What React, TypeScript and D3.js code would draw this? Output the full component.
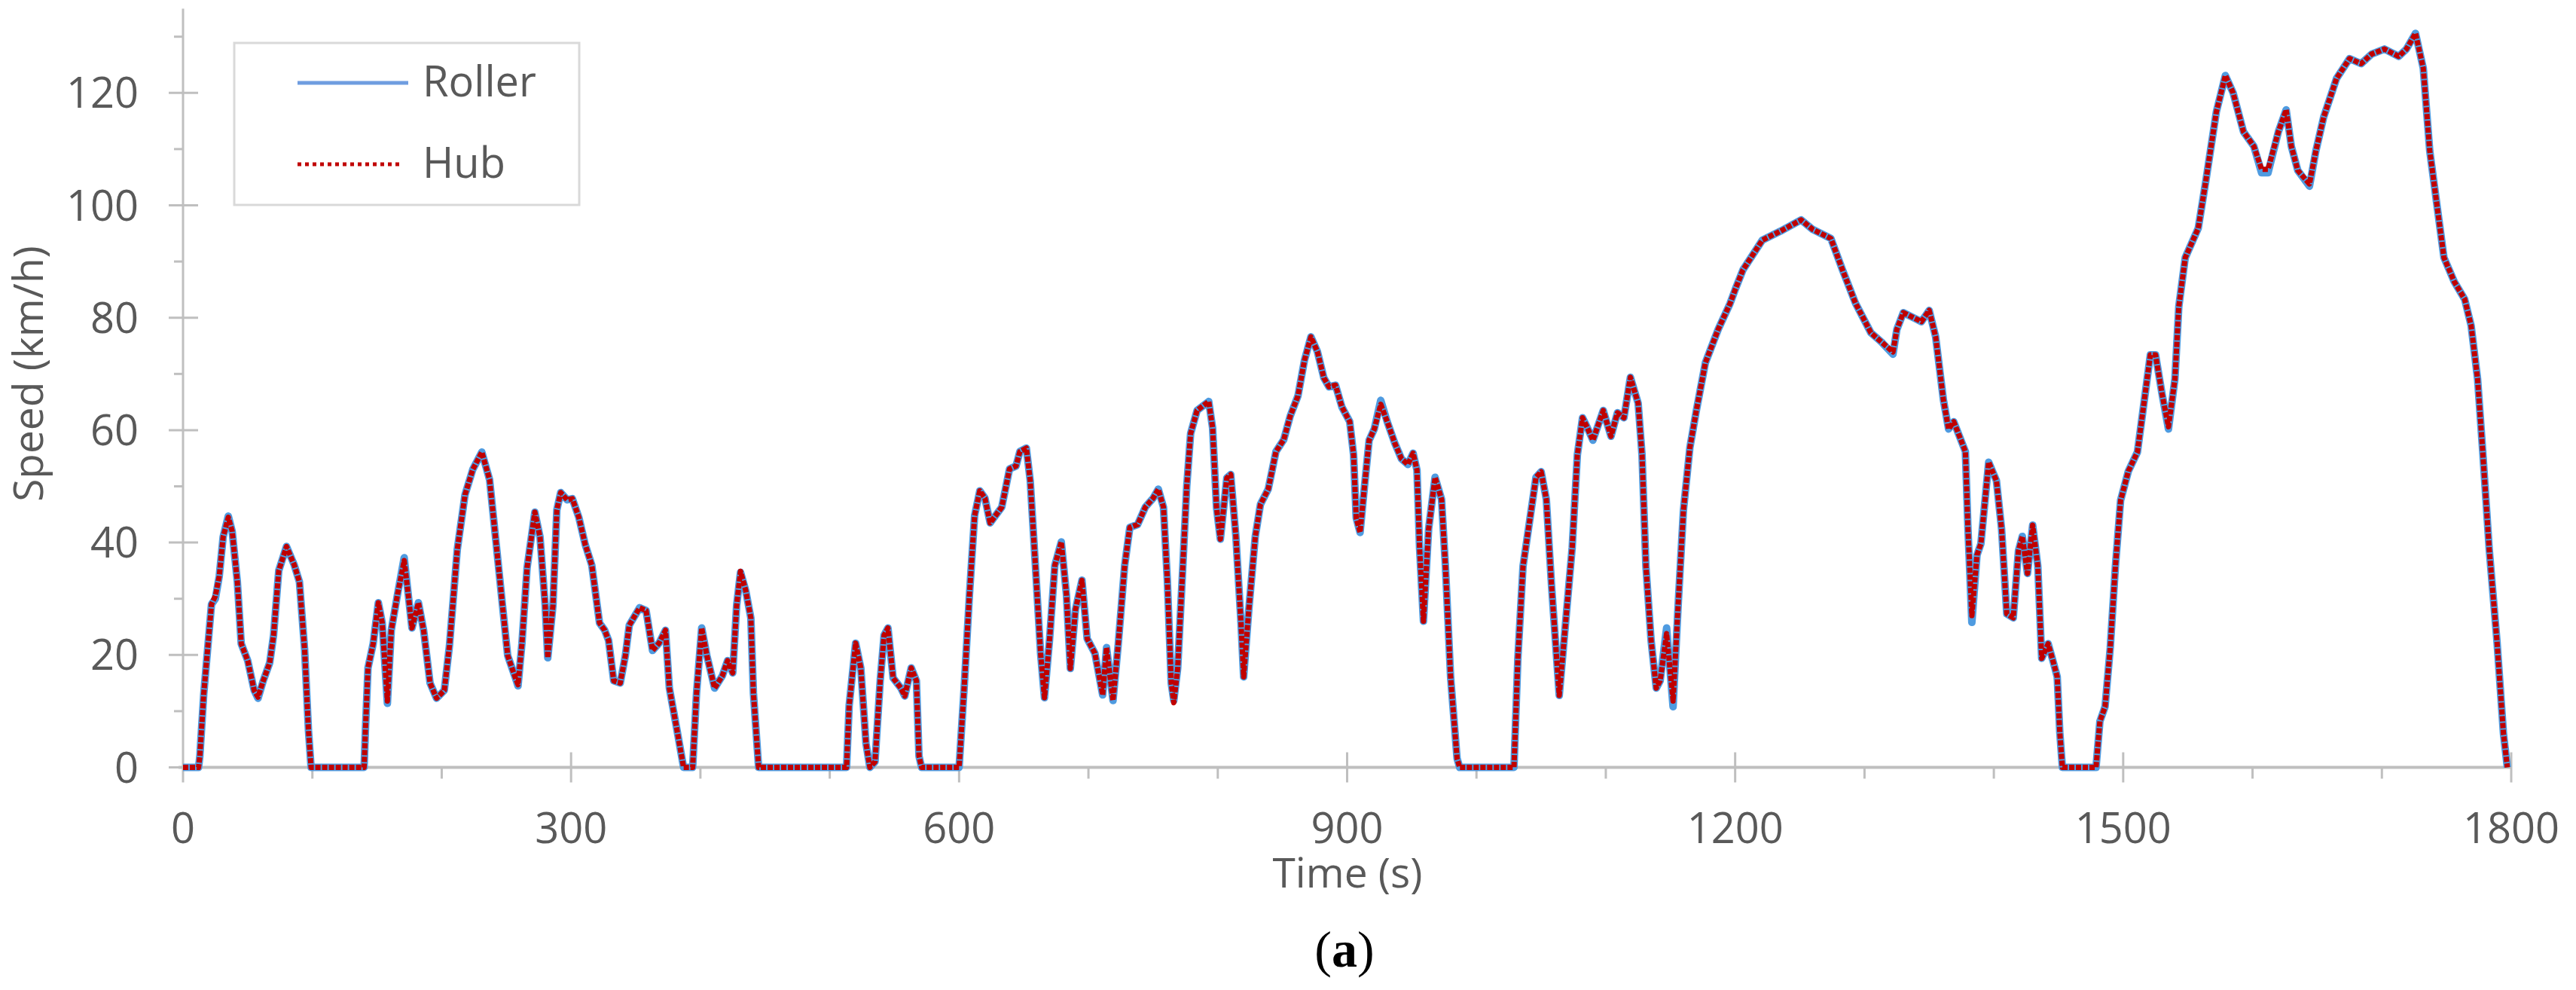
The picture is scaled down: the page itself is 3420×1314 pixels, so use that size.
import React, { useEffect } from "react";
import * as d3 from "d3";

// Time (s) of each read point
const timeS = [
  0, 12, 13, 16, 19, 22, 25, 28, 31, 35, 38, 42, 45, 50, 55, 58, 62, 67, 70, 74, 80, 86, 90, 94, 97, 99,
  140, 141, 143, 147, 151, 154, 158, 161, 166, 171, 174, 177, 182, 186, 191, 196, 202, 206, 212, 218, 224, 231, 237, 242, 247, 251, 257, 259,
  262, 266, 272, 276, 280, 282, 286, 289, 292, 297, 301, 306, 311, 316, 322, 326, 329, 333, 338, 342, 345, 353, 358, 363, 368, 373, 376, 382, 387,
  394, 397, 401, 405, 411, 417, 421, 425, 428, 431, 435, 439, 441, 445,
  513, 515, 520, 524, 528, 531, 535, 539, 542, 545, 549, 555, 558, 563, 567, 569, 571,
  600, 604, 608, 612, 616, 620, 624, 633, 639, 644, 647, 652, 655, 659, 663, 666, 670, 674, 679, 683, 686, 690, 695, 699, 705, 711, 714, 719, 723,
  728, 732, 738, 744, 750, 754, 758, 761, 764, 766, 769, 773, 776, 779, 784, 793, 796, 799, 802, 807, 810, 814, 818, 820, 824, 829, 833, 839, 845,
  851, 856, 862, 867, 872, 877, 882, 886, 891, 896, 902, 905, 907, 910, 913, 917, 921, 926, 931, 937, 942, 947, 951, 954, 956, 959, 963, 968, 973,
  976, 980, 985, 987,
  1029, 1032, 1036, 1041, 1046, 1050, 1054, 1058, 1064, 1069, 1074, 1078, 1082, 1085, 1090, 1098, 1104, 1109, 1114, 1119, 1125, 1128, 1131, 1135,
  1139, 1142, 1147, 1152, 1156, 1160, 1165, 1170, 1177, 1187, 1196, 1200, 1206, 1221, 1235, 1251, 1260, 1274, 1283, 1293, 1305, 1313, 1322, 1325,
  1330, 1344, 1350, 1355, 1361, 1365, 1369, 1378, 1380, 1383, 1387, 1390, 1396, 1402, 1406, 1410, 1415, 1419, 1422, 1426, 1430, 1434, 1437, 1442,
  1446, 1449, 1451, 1453,
  1479, 1482, 1486, 1490, 1494, 1498, 1504, 1511, 1515, 1521, 1525, 1530, 1535, 1540, 1543, 1548, 1558, 1564, 1572, 1579, 1585, 1593, 1601, 1607,
  1612, 1620, 1626, 1630, 1635, 1644, 1649, 1655, 1665, 1675, 1684, 1692, 1702, 1713, 1719, 1726, 1732, 1737, 1743, 1748, 1756, 1764, 1769, 1774,
  1778, 1783, 1789, 1794, 1797,
];

// Roller speed (km/h)
const rollerKmh = [
  0, 0, 2, 13, 21, 29, 30, 34, 41, 44.7, 42, 33, 22, 19, 13.7, 12.3, 15.4, 18.6, 23.5, 35, 39.3, 36, 33, 21, 6.5, 0,
  0, 6.5, 17.7, 22, 29.3, 25.7, 11.4, 24.4, 31, 37.3, 31, 24.8, 29.3, 24.4, 15, 12.3, 13.7, 21.7, 38.7, 48.5, 53, 56.1, 51.2, 40, 28.8, 19.9, 15.9, 14.5,
  22, 35.5, 45.4, 41, 28.8, 19.5, 28.8, 45.8, 48.9, 47.6, 47.8, 44.5, 39.6, 36, 25.7, 24.4, 22.6, 15.4, 15, 19.9, 25.3, 28.4, 27.9, 20.8, 22.1, 24.4, 14.1, 6.5, 0,
  0, 13.2, 24.8, 19.9, 14.1, 16.3, 19, 16.8, 28.8, 34.7, 31.5, 26.6, 13.2, 0,
  0, 11, 22.1, 17.7, 4.3, 0, 1, 15.4, 23.5, 24.8, 15.9, 14.1, 12.7, 17.7, 15.4, 2, 0,
  0, 14.5, 30.7, 44.8, 49.2, 47.9, 43.5, 46.3, 53.1, 53.6, 56.2, 56.8, 51, 35.9, 20.3, 12.4, 22.9, 35.9, 40.1, 30.7, 17.6, 28.1, 33.3, 22.9, 20.3, 12.9, 21.3, 11.9, 21.8,
  35.9, 42.7, 43.2, 46.3, 47.9, 49.5, 46.3, 33.3, 15, 11.9, 17.6, 35.9, 50, 59.4, 63.5, 65.1, 60.4, 46.3, 40.6, 51.5, 52.1, 41.1, 25.5, 16.1, 28.1, 41.1, 46.8, 49.5, 56.2,
  58.3, 62.5, 66.1, 72.4, 76.6, 74, 69.3, 67.7, 68, 64.1, 61.5, 55.6, 44.4, 41.8, 49, 58.2, 60.2, 65.3, 61.5, 57.6, 54.9, 53.9, 55.9, 52.9, 39.1, 26, 42.4, 51.6, 47.7,
  35.8, 16.1, 1.6, 0,
  0, 19.4, 35.8, 43.7, 51.6, 52.6, 47.7, 32.5, 12.8, 26, 39.1, 55.6, 62.2, 60.8, 58.2, 63.5, 58.9, 63.1, 62.2, 69.4, 64.8, 55.6, 35.8, 22.6,
  14.1, 15.4, 24.8, 10.8, 29.2, 45.7, 56.9, 63.5, 72, 78, 82.5, 85, 88.5, 93.8, 95.4, 97.4, 95.7, 94.1, 88.5, 82.6, 77.3, 75.7, 73.5, 77.9,
  80.9, 79.3, 81.3, 76.6, 65.4, 60.2, 61.5, 56.2, 42.4, 25.8, 37.8, 39.8, 54.3, 51, 42.4, 27.3, 26.6, 38.5, 41.1, 34.5, 43.1, 35.8, 19.4, 22,
  18.7, 16.1, 6.2, 0,
  0, 8.2, 10.8, 21.3, 35.8, 47.5, 52.7, 56.1, 63, 73.4, 73.4, 66.5, 60.2, 69.1, 82, 90.7, 95.9, 104.5, 116.6, 123.1, 120, 113.1, 110.5, 105.8,
  105.8, 113.1, 117, 110.5, 106.2, 103.4, 109.7, 115.7, 122.6, 126.1, 125.2, 126.9, 127.8, 126.5, 127.8, 130.6, 124.4, 109.7, 99.3, 90.7, 86.4, 83.3, 78.6, 69.1,
  56.1, 38.8, 22.4, 6, 0,
];

// Hub speed (km/h)
const hubKmh = [
  0, 0, 2, 13, 21, 29, 30.5, 34, 41, 44.5, 42, 33, 22, 19, 13.7, 12.5, 15.4, 18.6, 23.5, 35, 39.3, 36, 33, 21, 6.5, 0,
  0, 6.5, 17.7, 22, 29.3, 25.7, 11.8, 24.4, 31, 36.8, 31, 24.8, 29.3, 24.4, 15, 12.3, 13.7, 21.7, 38.7, 48.5, 53, 56.1, 51.2, 40, 28.8, 19.9, 15.9, 14.7,
  22, 35.5, 45.4, 41, 28.8, 19.5, 28.8, 45.8, 48.9, 47.6, 47.8, 44.5, 39.6, 36, 25.7, 24.4, 22.6, 15.4, 15, 19.9, 25.3, 28.4, 27.9, 20.8, 22.1, 24.4, 14.1, 6.5, 0,
  0, 13.2, 24.8, 19.9, 14.1, 16.3, 19, 16.8, 28.8, 34.9, 31.5, 26.6, 13.2, 0,
  0, 11, 22.1, 17.7, 4.3, 0, 1, 15.4, 23.5, 24.8, 15.9, 14.1, 12.7, 17.7, 15.4, 2, 0,
  0, 14.5, 30.7, 44.8, 49.2, 47.9, 43.5, 46.3, 53.1, 53.6, 56.2, 56.8, 51, 35.9, 20.3, 12.4, 22.9, 35.9, 40.1, 30.7, 17.6, 28.1, 33.3, 22.9, 20.3, 12.9, 21.3, 11.9, 21.8,
  35.9, 42.7, 43.2, 46.3, 47.9, 49.5, 46.3, 33.3, 15, 11.5, 17.6, 35.9, 50, 59.4, 63.5, 65.1, 60.4, 46.3, 40.6, 51.5, 52.1, 41.1, 25.5, 16.1, 28.1, 41.1, 46.8, 49.5, 56.2,
  58.3, 62.5, 66.1, 72.4, 76.6, 74, 69.3, 67.7, 68, 64.1, 61.5, 55.6, 44.4, 41.8, 49, 58.2, 60.2, 64.6, 61.5, 57.6, 54.9, 53.9, 55.9, 52.9, 39.1, 26, 42.4, 51.6, 47.7,
  35.8, 16.1, 1.6, 0,
  0, 19.4, 35.8, 43.7, 51.6, 52.6, 47.7, 32.5, 12.8, 26, 39.1, 55.6, 62.2, 60.8, 58.2, 63.5, 58.9, 63.1, 62.2, 69.4, 64.8, 55.6, 35.8, 22.6,
  14.1, 15.4, 23.8, 11.8, 29.2, 45.7, 56.9, 63.5, 72, 78, 82.5, 85, 88.5, 93.8, 95.4, 97.4, 95.7, 94.1, 88.5, 82.6, 77.3, 75.7, 73.9, 77.9,
  80.9, 79.3, 81.3, 76.6, 65.4, 60.2, 61.5, 56.2, 42.4, 27, 37.8, 39.8, 54.3, 51, 42.4, 27.3, 26.6, 38.5, 41.1, 34.5, 43.1, 35.8, 19.4, 22,
  18.7, 16.1, 6.2, 0,
  0, 8.2, 10.8, 21.3, 35.8, 47.5, 52.7, 56.1, 63, 73.4, 73.4, 66.5, 60.6, 69.1, 82, 90.7, 95.9, 104.5, 116.6, 123.1, 120, 113.1, 110.5, 106.4,
  106.4, 113.1, 117, 110.5, 106.2, 103.8, 109.7, 115.7, 122.6, 126.1, 125.2, 126.9, 127.8, 126.5, 127.8, 130.6, 124.4, 109.7, 99.3, 90.7, 86.4, 83.3, 78.6, 69.1,
  56.1, 38.8, 22.4, 6, 0,
];

const xMajorTicks = [0, 300, 600, 900, 1200, 1500, 1800];
const xMinorTicks = [100, 200, 400, 500, 700, 800, 1000, 1100, 1300, 1400, 1600, 1700];
const yMajorTicks = [0, 20, 40, 60, 80, 100, 120];
const yMinorTicks = [10, 30, 50, 70, 90, 110, 130];
const seriesNames = ["Roller", "Hub"];

const W = 3420;
const H = 1314;
const FONT = "'Open Sans', 'Segoe UI', sans-serif";
const AXIS = "#bfbfbf";
const TXT = "#595959";
const BLUE = "#4f9be0";
const LEGEND_BLUE = "#6f9de0";
const RED = "#c00000";

export default function App() {
  useEffect(() => {
    document.body.style.margin = "0";
  }, []);

  const x = d3.scaleLinear().domain([0, 1800]).range([243, 3334]);
  const y = d3.scaleLinear().domain([0, 135]).range([1018.5, 1018.5 - 135 * 7.46]);

  const rollerPts = timeS.map((t, i) => [t, rollerKmh[i]] as [number, number]);
  const hubPts = timeS.map((t, i) => [t, hubKmh[i]] as [number, number]);
  const line = d3
    .line<[number, number]>()
    .x((d) => x(d[0]))
    .y((d) => y(d[1]))
    .curve(d3.curveLinear);

  const x0 = x(0);
  const y0 = y(0);

  return (
    <svg
      width={W}
      height={H}
      viewBox={`0 0 ${W} ${H}`}
      style={{ display: "block", position: "absolute", left: 0, top: 0, background: "#fff" }}
    >
      <rect x={0} y={0} width={W} height={H} fill="#fff" />

      {/* axes */}
      <line x1={x0} x2={x0} y1={y(135)} y2={y0} stroke={AXIS} strokeWidth={3} />
      <line x1={x0 - 6} x2={x(1800) + 1} y1={y0} y2={y0} stroke={AXIS} strokeWidth={4} />

      {yMajorTicks.map((v) => (
        <g key={"ym" + v}>
          <line x1={x0 - 19} x2={x0 + 20} y1={y(v)} y2={y(v)} stroke={AXIS} strokeWidth={3} />
          <text x={184} y={y(v) + 20} textAnchor="end" fontFamily={FONT} fontSize={56} fill={TXT}>
            {v}
          </text>
        </g>
      ))}
      {yMinorTicks.map((v) => (
        <line key={"yn" + v} x1={x0 - 12} x2={x0} y1={y(v)} y2={y(v)} stroke={AXIS} strokeWidth={3} />
      ))}

      {xMajorTicks.map((t) => (
        <g key={"xm" + t}>
          <line x1={x(t)} x2={x(t)} y1={t === 0 ? y0 : y0 - 20} y2={y0 + 20} stroke={AXIS} strokeWidth={3} />
          <text x={x(t)} y={1119} textAnchor="middle" fontFamily={FONT} fontSize={56} fill={TXT}>
            {t}
          </text>
        </g>
      ))}
      {xMinorTicks.map((t) => (
        <line key={"xn" + t} x1={x(t)} x2={x(t)} y1={y0} y2={y0 + 15} stroke={AXIS} strokeWidth={3} />
      ))}

      {/* axis titles */}
      <text x={1789} y={1178} textAnchor="middle" fontFamily={FONT} fontSize={55} fill={TXT}>
        Time (s)
      </text>
      <text
        transform={`translate(57, 496) rotate(-90)`}
        textAnchor="middle"
        fontFamily={FONT}
        fontSize={55}
        fill={TXT}
      >
        Speed (km/h)
      </text>

      {/* series */}
      <path d={line(rollerPts) || ""} fill="none" stroke={BLUE} strokeWidth={10} strokeLinejoin="round" />
      <path
        d={line(hubPts) || ""}
        fill="none"
        stroke={RED}
        strokeWidth={7}
        strokeDasharray="7 2"
        strokeLinejoin="round"
      />

      {/* legend */}
      <rect x={311} y={57} width={458} height={215} fill="#fff" stroke="#d9d9d9" strokeWidth={3} />
      <line x1={395} x2={542} y1={110} y2={110} stroke={LEGEND_BLUE} strokeWidth={5} />
      <text x={561} y={128} fontFamily={FONT} fontSize={56} fill={TXT}>
        {seriesNames[0]}
      </text>
      <line x1={395} x2={533} y1={218} y2={218} stroke={RED} strokeWidth={5} strokeDasharray="5 5" />
      <text x={561} y={236} fontFamily={FONT} fontSize={56} fill={TXT}>
        {seriesNames[1]}
      </text>

      {/* panel label */}
      <text x={1785} y={1283} textAnchor="middle" fontFamily="'Liberation Serif', serif" fontSize={68} fill="#000">
        (<tspan fontWeight="bold">a</tspan>)
      </text>
    </svg>
  );
}
